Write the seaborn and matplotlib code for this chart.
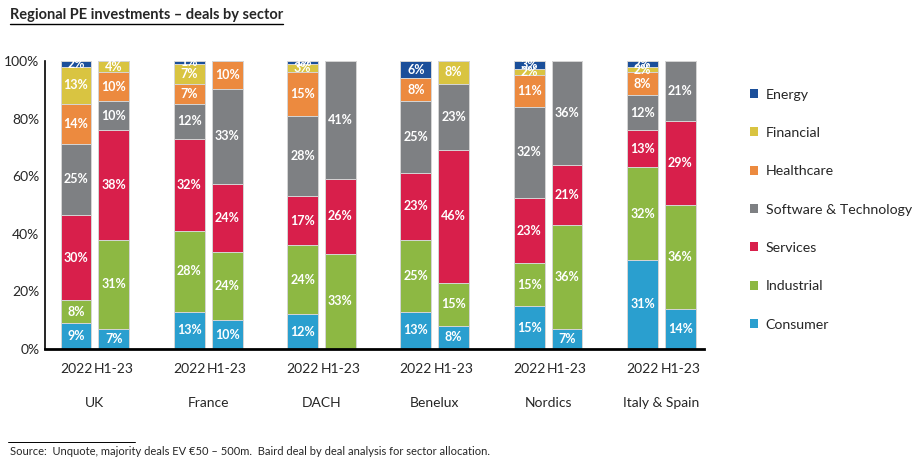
import matplotlib.pyplot as plt
import seaborn as sns
import pandas as pd
from matplotlib.patches import Patch
from matplotlib.lines import Line2D

# Bars: each region has a 2022 bar and an H1-23 bar
regions = ['UK', 'France', 'DACH', 'Benelux', 'Nordics', 'Italy & Spain']
periods = ['2022', 'H1-23']

# shares (%) per bar: UK 2022, UK H1-23, France 2022, France H1-23, ...
consumer = [9, 7, 13, 10, 12, 0, 13, 8, 15, 7, 31, 14]
industrial = [8, 31, 28, 24, 24, 33, 25, 15, 15, 36, 32, 36]
services = [30, 38, 32, 24, 17, 26, 23, 46, 23, 21, 13, 29]
software = [25, 10, 12, 33, 28, 41, 25, 23, 32, 36, 12, 21]
healthcare = [14, 10, 7, 10, 15, 0, 8, 0, 11, 0, 8, 0]
financial = [13, 4, 7, 0, 3, 0, 0, 8, 2, 0, 2, 0]
energy = [2, 0, 1, 0, 1, 0, 6, 0, 3, 0, 2, 0]

sectors = ['Consumer', 'Industrial', 'Services', 'Software & Technology',
           'Healthcare', 'Financial', 'Energy']
values = [consumer, industrial, services, software, healthcare, financial, energy]
colors = ['#2A9FCF', '#8DB843', '#D81F4B', '#7E8083', '#EC8A3F', '#D9C441', '#1B4F9A']

sns.set_style('white')
plt.rcParams['font.family'] = ['Lato', 'DejaVu Sans']

n_bars = len(regions) * len(periods)
pos = [(i // 2) * 3 + (i % 2) for i in range(n_bars)]

df = pd.DataFrame({s: v for s, v in zip(sectors, values)})
df['pos'] = pos
totals = df[sectors].sum(axis=1)
heights = df[sectors].div(totals, axis=0) * 100
cum = heights.cumsum(axis=1)

fig = plt.figure(figsize=(9.21, 4.65), dpi=100)
ax = fig.add_axes([0.0489, 0.2495, 0.716, 0.6195])

# layered stacking: tallest cumulative first
for s, c in reversed(list(zip(sectors, colors))):
    sns.barplot(x=df['pos'], y=cum[s], color=c, native_scale=True, width=0.82,
                saturation=1, errorbar=None, edgecolor='#d6d6d6', linewidth=0.7, ax=ax)

# segment labels
for i in range(n_bars):
    for s in sectors:
        v = df.loc[i, s]
        if v > 0:
            mid = cum.loc[i, s] - heights.loc[i, s] / 2
            ax.text(pos[i], mid, f'{v}%', ha='center', va='center', color='white',
                    fontsize=9, fontweight='bold')

ax.set_xlim(-0.82, 16.64)
ax.set_ylim(0, 100)
ax.set_yticks(range(0, 101, 20))
ax.set_yticklabels([f'{t}%' for t in range(0, 101, 20)], fontsize=10)
ax.set_xticks(pos)
ax.set_xticklabels(periods * len(regions), fontsize=10)
ax.tick_params(axis='both', length=0)
ax.tick_params(axis='x', pad=10)
ax.tick_params(axis='y', pad=4)
ax.set_xlabel('')
ax.set_ylabel('')
for side in ['top', 'right']:
    ax.spines[side].set_visible(False)
ax.spines['left'].set_color('black')
ax.spines['left'].set_linewidth(1.2)
ax.spines['bottom'].set_color('black')
ax.spines['bottom'].set_linewidth(2)

for g, r in enumerate(regions):
    ax.text(g * 3 + 0.5, -0.188, r, transform=ax.get_xaxis_transform(),
            ha='center', va='center', fontsize=10)

handles = [Patch(facecolor=c, edgecolor='none', label=s)
           for s, c in zip(sectors, colors)][::-1]
fig.legend(handles=handles, loc='upper left', bbox_to_anchor=(0.8, 0.837),
           frameon=False, fontsize=10.2, handlelength=0.6, handleheight=0.6,
           handletextpad=0.55, labelspacing=1.86)

# title with underline
title = fig.text(0.011, 0.968, 'Regional PE investments \u2013 deals by sector',
                 fontsize=10.5, fontweight='bold', va='center', ha='left')
fig.canvas.draw()
bb = title.get_window_extent(fig.canvas.get_renderer()).transformed(fig.transFigure.inverted())
fig.add_artist(Line2D([bb.x0, bb.x1], [bb.y0 - 0.004, bb.y0 - 0.004],
                      transform=fig.transFigure, color='black', lw=1))

# footnote
fig.add_artist(Line2D([0.009, 0.147], [0.049, 0.049], transform=fig.transFigure,
                      color='black', lw=0.7))
fig.text(0.011, 0.03, 'Source:  Unquote, majority deals EV \u20ac50 \u2013 500m.  '
         'Baird deal by deal analysis for sector allocation.',
         fontsize=8, va='center', ha='left')

fig.savefig('out.png', dpi=100)
